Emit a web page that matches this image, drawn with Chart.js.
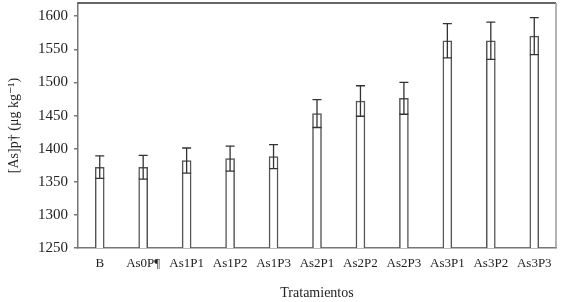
<!DOCTYPE html>
<html>
<head>
<meta charset="utf-8">
<script src="https://cdn.jsdelivr.net/npm/chart.js@4/dist/chart.umd.min.js"></script>
<style>
  html, body { margin: 0; padding: 0; background: #fff; }
  #wrap { width: 562px; height: 302px; }
</style>
</head>
<body>
<div id="wrap"><canvas id="asChart"></canvas></div>
<script>
const treatments = ["B", "As0P\u00B6", "As1P1", "As1P2", "As1P3", "As2P1", "As2P2", "As2P3", "As3P1", "As3P2", "As3P3"]
const meanAs = [1372, 1372, 1382, 1385, 1388, 1453, 1472, 1476, 1563, 1563, 1570]
const errAs = [17, 18, 19, 19, 18, 21, 23, 24, 26, 28, 28]
const yTicks = [1250, 1300, 1350, 1400, 1450, 1500, 1550, 1600]

const serif = "'Liberation Serif', 'DejaVu Serif', serif"

// error bars with caps at both ends
const errorBars = {
    id: 'errorBars',
    afterDatasetsDraw(chart) {
        const x = chart.scales.x
        const y = chart.scales.y
        const ctx = chart.ctx
        const half = 4.5
        ctx.save()
        ctx.strokeStyle = '#333'
        ctx.lineWidth = 1.3
        meanAs.forEach((v, i) => {
            const cx = x.getPixelForValue(i)
            const yt = y.getPixelForValue(v + errAs[i])
            const yb = y.getPixelForValue(v - errAs[i])
            ctx.beginPath()
            ctx.moveTo(cx, yt); ctx.lineTo(cx, yb)
            ctx.moveTo(cx - half, yt); ctx.lineTo(cx + half, yt)
            ctx.moveTo(cx - half, yb); ctx.lineTo(cx + half, yb)
            ctx.stroke()
        })
        ctx.restore()
    }
}

// top and right edges of the frame
const frame = {
    id: 'frame',
    afterDraw(chart) {
        const a = chart.chartArea
        const ctx = chart.ctx
        ctx.save()
        ctx.lineWidth = 1.5
        ctx.strokeStyle = '#333'
        ctx.beginPath()
        ctx.moveTo(a.left, a.top); ctx.lineTo(a.right, a.top)
        ctx.stroke()
        ctx.strokeStyle = '#999'
        ctx.beginPath()
        ctx.moveTo(a.right, a.top); ctx.lineTo(a.right, a.bottom)
        ctx.stroke()
        ctx.restore()
    }
}

new Chart("asChart", {
    type: 'bar',
    data: {
        labels: treatments,
        datasets: [{
            data: meanAs,
            backgroundColor: '#fff',
            borderColor: '#555',
            borderWidth: 1.5,
            borderSkipped: 'start',
            barThickness: 9,
        }]
    },
    options: {
        responsive: true,
        maintainAspectRatio: false,
        animation: false,
        layout: { padding: { left: 0, right: 6, top: 3, bottom: 0 } },
        plugins: {
            legend: { display: false },
            tooltip: { enabled: false },
        },
        scales: {
            x: {
                grid: { display: false },
                border: { display: true, color: '#777', width: 1.5 },
                ticks: { color: '#222', padding: 0, maxRotation: 0, autoSkip: false, font: { family: serif, size: 13 } },
                title: {
                    display: true,
                    text: 'Tratamientos',
                    color: '#222',
                    font: { family: serif, size: 14 },
                    padding: { top: 0, bottom: 0 },
                },
                afterFit: (s) => { s.height = 54 },
            },
            y: {
                min: 1250,
                max: 1620,
                afterBuildTicks: (s) => { s.ticks = yTicks.map(v => ({ value: v })) },
                grid: { display: true, drawOnChartArea: false, tickLength: 4, color: '#777', lineWidth: 1.5 },
                border: { display: true, color: '#777', width: 1.5 },
                ticks: {
                    color: '#222',
                    padding: 6,
                    font: { family: serif, size: 15 },
                    callback: (v) => String(v),
                },
                title: {
                    display: true,
                    text: '[As]p\u2020 (\u03BCg kg\u207B\u00B9)',
                    color: '#222',
                    font: { family: serif, size: 14 },
                    padding: { top: 6, bottom: 0 },
                },
                afterFit: (s) => {
                    s.width = 78
                    s.paddingTop = 0
                    s.paddingBottom = 0
                },
            }
        }
    },
    plugins: [errorBars, frame]
})
</script>
</body>
</html>
